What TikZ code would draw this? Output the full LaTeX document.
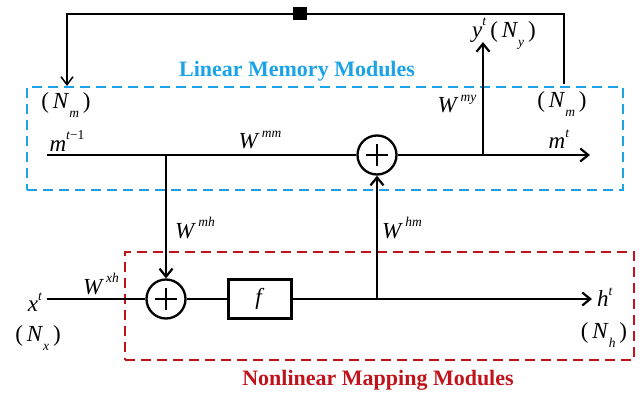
\documentclass[tikz,border=0pt]{standalone}
\usepackage{fontspec}
\setmainfont{Liberation Serif}
\usetikzlibrary{arrows.meta}
\definecolor{lmblue}{RGB}{27,163,232}
\definecolor{nmred}{RGB}{192,20,28}
\newcommand\lsup[2]{\textit{#1}\raisebox{0.5em}{\fontsize{13.5pt}{14pt}\selectfont\textit{#2}}}
\newcommand\lsub[2]{\textit{#1}\raisebox{-0.4em}{\fontsize{13.5pt}{14pt}\selectfont\textit{#2}}}
\tikzset{
  wire/.style={line width=2.3pt},
  arr/.style={wire,-{Straight Barb[length=8pt,width=13pt,line width=2.2pt]}},
  fb/.style={line width=1.5pt},
  fbarr/.style={fb,-{Straight Barb[length=8pt,width=12pt,line width=1.5pt]}},
  lbl/.style={inner sep=0pt,font=\fontsize{23pt}{25pt}\selectfont},
  ttl/.style={inner sep=0pt,font=\fontsize{22pt}{24pt}\selectfont\bfseries},
  oplus/.style={circle,draw,line width=2.3pt,minimum size=39pt,inner sep=0pt,
    path picture={\draw[line width=2.3pt] (path picture bounding box.center) +(-11,0) -- +(11,0)
      (path picture bounding box.center) +(0,-11) -- +(0,11);}},
  fbox/.style={draw,line width=2.3pt,minimum width=63pt,minimum height=39pt,inner sep=0pt,font=\fontsize{23pt}{25pt}\selectfont},
  modbox/.style={line width=2.7pt,dash pattern=on 10pt off 6pt,inner sep=0pt},
}
\begin{document}
\begin{tikzpicture}[x=1pt,y=-1pt]
\useasboundingbox (0,0) rectangle (643,395);
% module boxes
\node[modbox,draw=lmblue,minimum width=596pt,minimum height=103pt] (lmm) at (325,138.5) {};
\node[modbox,draw=nmred,minimum width=509pt,minimum height=108pt] (nmm) at (379.5,306) {};
\node[ttl,text=lmblue] (lmmt) at (297,71) {Linear Memory Modules};
\node[ttl,text=nmred] (nmmt) at (378,380) {Nonlinear Mapping Modules};
% main nodes
\node[oplus] (p1) at (377,155) {};
\node[oplus] (p2) at (166,299) {};
\node[fbox] (f) at (260,299) {\textit{f}};
\coordinate (m0) at (47,155);
\coordinate (mt) at (590,155);
\coordinate (bmh) at (166,155);
\coordinate (bmy) at (483,155);
\coordinate (yt) at (483,42);
\coordinate (x0) at (47,299);
\coordinate (ht) at (592,299);
\coordinate (bhm) at (377,299);
% labels
\node[lbl] (Nml) at (66,105) {(\,\lsub{N}{m}\,)};
\node[lbl] (mtm1) at (67,141) {\textit{m}\raisebox{0.5em}{\fontsize{13.5pt}{14pt}\selectfont\textit{t}−1}};
\node[lbl] (Wmm) at (260,140) {\lsup{W}{\,mm}};
\node[lbl] (Wmy) at (457,104) {\lsup{W}{\,my}};
\node[lbl] (Nmr) at (562,104) {(\,\lsub{N}{m}\,)};
\node[lbl] (mtl) at (559,139) {\lsup{m}{t}};
\node[lbl,anchor=west] (ytl) at (472,34) {\lsup{y}{t}\,(\,\lsub{N}{y}\,)};
\node[lbl] (Wmh) at (195,228) {\lsup{W}{\,mh}};
\node[lbl] (Wxh) at (101,284) {\lsup{W}{\,xh}};
\node[lbl] (xt) at (35,302) {\lsup{x}{t}};
\node[lbl] (Nx) at (38,338) {(\,\lsub{N}{x}\,)};
\node[lbl] (Whm) at (402,228) {\lsup{W}{\,hm}};
\node[lbl] (htl) at (605,297) {\lsup{h}{t}};
\node[lbl] (Nh) at (604,335) {(\,\lsub{N}{h}\,)};
% feedback loop
\draw[fbarr] (564,84) |- (67,14) -- (67,86);
\node[fill=black,minimum width=14pt,minimum height=13pt,inner sep=0pt] (sq) at (300,14) {};
% wires
\draw[wire] (m0) -- (p1.west);
\draw[arr] (p1.east) -- (mt);
\draw[arr] (bmh) -- (p2.north);
\draw[arr] (bmy) -- (yt);
\draw[wire] (x0) -- (p2.west);
\draw[wire] (p2.east) -- (f.west);
\draw[arr] (f.east) -- (ht);
\draw[arr] (bhm) -- (p1.south);
\end{tikzpicture}
\end{document}
